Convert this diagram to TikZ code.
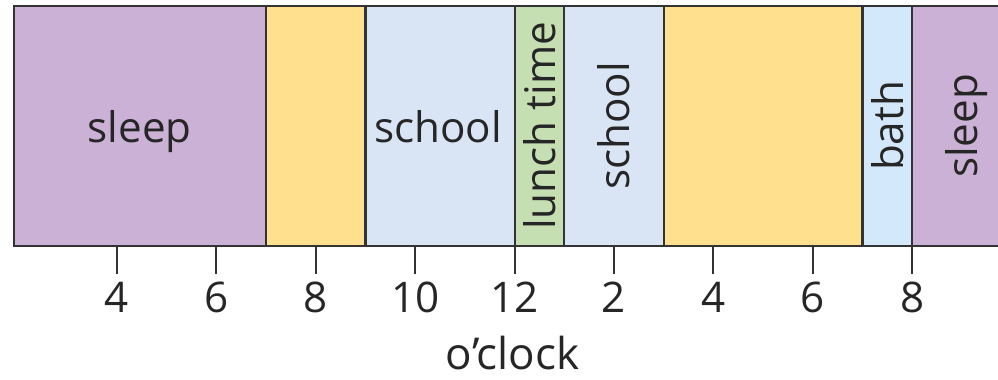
\documentclass[tikz,border=0pt]{standalone}
\usepackage{fontspec}
\setmainfont{Open Sans}
\usetikzlibrary{positioning}
\definecolor{sleepcol}{HTML}{CBB1D5}
\definecolor{freecol}{HTML}{FEE08F}
\definecolor{schoolcol}{HTML}{D9E4F5}
\definecolor{lunchcol}{HTML}{C5DFB2}
\definecolor{bathcol}{HTML}{D3E9FB}
\definecolor{linecol}{HTML}{333333}
\tikzset{
	seg/.style={draw=linecol, line width=0.6pt},
	lbl/.style={font=\fontsize{12pt}{14pt}\selectfont, inner sep=0pt, text=black!85},
	vlbl/.style={lbl, rotate=90},
	hourtick/.style={draw=linecol, line width=0.6pt}
}

\begin{document}
\begin{tikzpicture}[x=0.497cm, y=0.01cm]
\useasboundingbox (1.646,0) rectangle (21.727,380);
\clip (1.646,0) rectangle (21.727,380);

% day bar
\foreach \a/\b/\c in {1.93/7/sleepcol, 7/9/freecol, 9/12/schoolcol, 12/13/lunchcol,
	13/15/schoolcol, 15/19/freecol, 19/20/bathcol, 20/23/sleepcol}
	\filldraw[seg, fill=\c] (\a,134) rectangle (\b,374);

\node[lbl, anchor=base] (sleepam) at (4.46,237) {sleep};
\node[lbl, anchor=base] (schoolam) at (10.46,237) {school};
\node[vlbl] (lunch) at (12.5,254) {lunch\ time};
\node[vlbl] (schoolpm) at (14,254) {school};
\node[vlbl] (bath) at (19.5,254) {bath};
\node[vlbl] (sleeppm) at (21.1,254) {sleep};

% hours
\foreach \h/\t in {4/4, 6/6, 8/8, 10/10, 12/12, 14/2, 16/4, 18/6, 20/8} {
	\coordinate (t\h) at (\h,134);
	\coordinate (b\h) at (\h,106);
	\draw[hourtick] (t\h) -- (b\h);
	\node[lbl, anchor=base] (hr\h) at (\h,67) {\t};
}
\node[lbl, anchor=base, font=\fontsize{12.5pt}{14pt}\selectfont] (oclock) at (11.96,10) {o’clock};
\end{tikzpicture}
\end{document}
